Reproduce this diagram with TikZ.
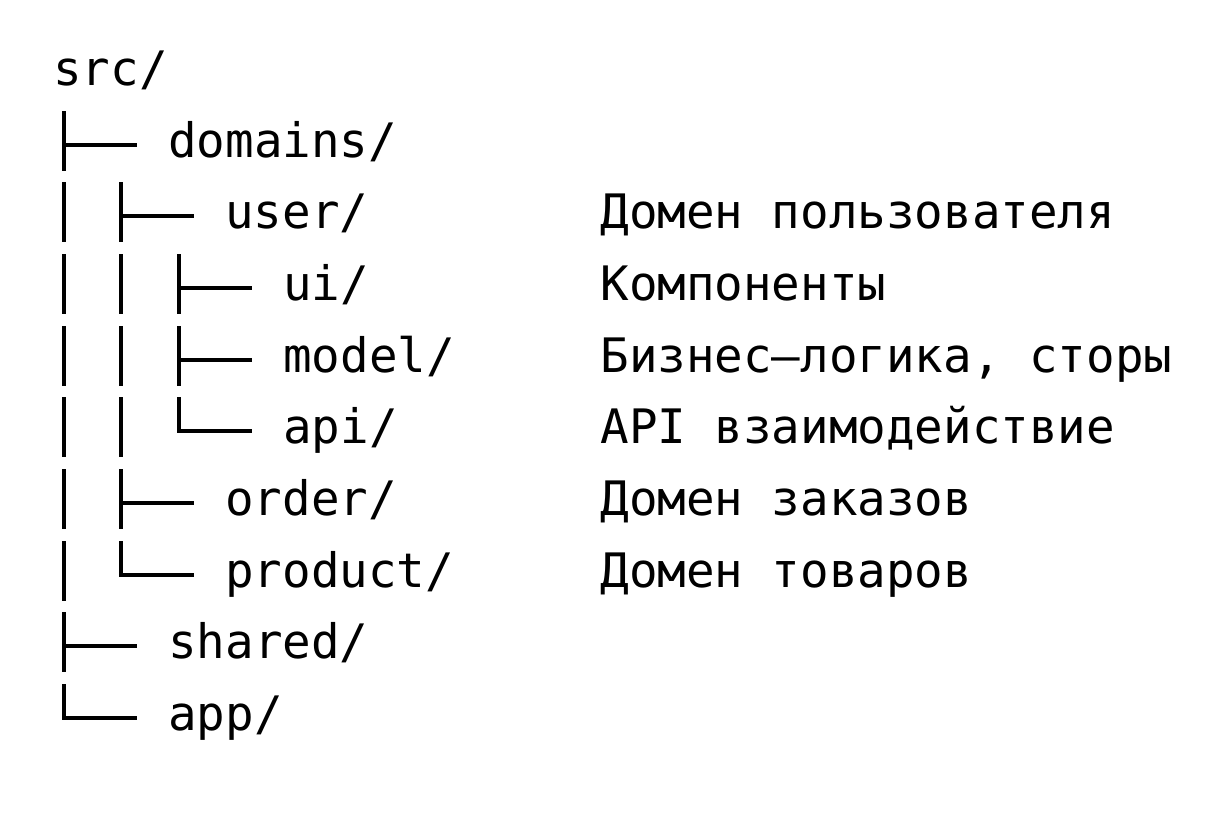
\documentclass[tikz,border=0pt]{standalone}
\usepackage{fontspec}
\setmonofont{DejaVu Sans Mono}
\usetikzlibrary{calc}

\tikzset{
  dir/.style={anchor=base west, inner sep=0pt, font=\ttfamily\fontsize{23.75pt}{28pt}\selectfont},
  note/.style={dir},
  branch/.style={line width=2pt},
}

\begin{document}
\begin{tikzpicture}[x=0.5pt,y=-0.5pt]
\useasboundingbox (0,0) rectangle (1227,820);
% folders
\node[dir] (src) at (53,85) {src/};
\node[dir] (domains) at (168,157) {domains/};
\node[dir] (user) at (225,228) {user/};
\node[dir] (ui) at (283,300) {ui/};
\node[dir] (model) at (283,372) {model/};
\node[dir] (api) at (283,443) {api/};
\node[dir] (order) at (225,515) {order/};
\node[dir] (product) at (225,587) {product/};
\node[dir] (shared) at (168,658) {shared/};
\node[dir] (app) at (168,730) {app/};
% comments
\node[note] (userNote) at (user.base west -| 600,0) {Домен пользователя};
\node[note] (uiNote) at (ui.base west -| 600,0) {Компоненты};
\node[note] (modelNote) at (model.base west -| 600,0) {Бизнес–логика, сторы};
\node[note] (apiNote) at (api.base west -| 600,0) {API взаимодействие};
\node[note] (orderNote) at (order.base west -| 600,0) {Домен заказов};
\node[note] (productNote) at (product.base west -| 600,0) {Домен товаров};
% branches
\foreach \n in {domains,user,ui,model,order,shared}
  \draw[branch] ($(\n.base west)+(-104,-46)$) -- ($(\n.base west)+(-104,14)$)
                ($(\n.base west)+(-104,-12)$) -- ($(\n.base west)+(-31,-12)$);
\foreach \n in {api,product,app}
  \draw[branch] ($(\n.base west)+(-104,-46)$) |- ($(\n.base west)+(-31,-12)$);
% pass-through bars
\foreach \n in {user,ui,model,api,order,product}
  \draw[branch] ($(\n.base west -| domains.base west)+(-104,-46)$) -- ($(\n.base west -| domains.base west)+(-104,14)$);
\foreach \n in {ui,model,api}
  \draw[branch] ($(\n.base west -| user.base west)+(-104,-46)$) -- ($(\n.base west -| user.base west)+(-104,14)$);
\end{tikzpicture}
\end{document}
